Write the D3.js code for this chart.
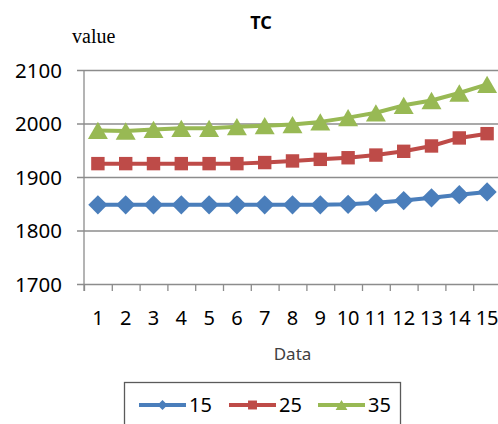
<!DOCTYPE html>
<html>
<head>
<meta charset="utf-8">
<script src="https://cdn.jsdelivr.net/npm/d3@7"></script>
<style>
  body { margin: 0; background: #fff; }
  svg { display: block; }
</style>
</head>
<body>
<svg></svg>
<script>
let categories = ['1','2','3','4','5','6','7','8','9','10','11','12','13','14','15']
let seriesNames = ['15', '25', '35']
let values15 = [1848,1848,1848,1848,1848,1848,1848,1848,1848,1849,1852,1856,1861,1867,1872]
let values25 = [1925,1925,1925,1925,1925,1925,1927,1930,1933,1936,1941,1948,1958,1973,1981]
let values35 = [1987,1986,1989,1991,1991,1994,1996,1998,2003,2011,2020,2034,2043,2057,2073]
let yTicks = [1700, 1800, 1900, 2000, 2100]

let colors = ['#4a7ebb', '#be4b48', '#98b954']

let width = 498
let height = 424
let plotLeft = 84
let plotRight = 501
let plotTop = 70
let plotBottom = 284

let font = "'Noto Sans', sans-serif"

let svg = d3.select('svg')
    .attr('width', width)
    .attr('height', height)

let series = [values15, values25, values35].map((vals, i) => {
    return { name: seriesNames[i], color: colors[i], values: vals }
})

let xScale = d3.scaleBand()
    .domain(categories)
    .range([plotLeft, plotRight])

let xTickScale = d3.scaleLinear()
    .domain([0, categories.length])
    .range([plotLeft, plotRight])

let yScale = d3.scaleLinear()
    .domain([1700, 2100])
    .range([plotBottom, plotTop])

// gridlines + y labels
let yAxis = svg.append('g')
    .attr('transform', 'translate(' + plotLeft + ',0)')
    .call(d3.axisLeft(yScale).tickValues(yTicks).tickSize(7).tickPadding(15).tickFormat(d3.format('d')))
yAxis.select('.domain').remove()
yAxis.selectAll('.tick line')
    .attr('x1', -7)
    .attr('x2', plotRight - plotLeft)
    .attr('stroke', '#8c8c8c')
    .attr('stroke-width', 1.3)
yAxis.selectAll('.tick text')
    .attr('font-family', font)
    .attr('font-size', 20.5)
    .attr('fill', '#000')
    .attr('dy', '0.36em')

// x tick marks at category boundaries
let xTicks = svg.append('g')
    .attr('transform', 'translate(0,' + plotBottom + ')')
    .call(d3.axisBottom(xTickScale).ticks(categories.length).tickSize(7).tickFormat(''))
xTicks.select('.domain').remove()
xTicks.selectAll('.tick line').attr('stroke', '#8c8c8c').attr('stroke-width', 1.3)

// x labels
let xAxis = svg.append('g')
    .attr('transform', 'translate(0,' + plotBottom + ')')
    .call(d3.axisBottom(xScale).tickSize(0))
xAxis.select('.domain').remove()
xAxis.selectAll('.tick text')
    .attr('y', 41)
    .attr('dy', 0)
    .attr('font-family', font)
    .attr('font-size', 20)
    .attr('fill', '#000')

// axis line
svg.append('line')
    .attr('x1', plotLeft).attr('x2', plotLeft)
    .attr('y1', plotTop).attr('y2', plotBottom + 7)
    .attr('stroke', '#8c8c8c')
    .attr('stroke-width', 1.3)

let line = d3.line()
    .x((d, i) => xScale(categories[i]) + xScale.bandwidth() / 2)
    .y((d) => yScale(d))

let markerPath = (i, big) => {
    if (i == 0) return d3.symbol().type(d3.symbolSquare).size(big ? 185 : 50)()
    if (i == 1) return d3.symbol().type(d3.symbolSquare).size(big ? 180 : 80)()
    return d3.symbol().type(d3.symbolTriangle).size(big ? 173 : 60)()
}
let markerShift = (i, big) => {
    if (i != 2) return 0
    let size = big ? 173 : 60
    return Math.sqrt(size / (Math.sqrt(3) * 3)) / 2
}
let markerRotate = (i) => i == 0 ? 45 : 0

series.forEach((s, i) => {
    svg.append('path')
        .datum(s.values)
        .attr('fill', 'none')
        .attr('stroke', s.color)
        .attr('stroke-width', 4)
        .attr('stroke-linejoin', 'round')
        .attr('d', line)

    svg.selectAll('.m' + i)
        .data(s.values)
        .enter()
        .append('path')
        .attr('class', 'm' + i)
        .attr('d', markerPath(i, true))
        .attr('fill', s.color)
        .attr('transform', (d, j) => 'translate(' + (xScale(categories[j]) + xScale.bandwidth() / 2) + ',' + (yScale(d) + markerShift(i, true)) + ') rotate(' + markerRotate(i) + ')')
})

// title
svg.append('text')
    .attr('x', 261)
    .attr('y', 29)
    .attr('text-anchor', 'middle')
    .attr('font-family', font)
    .attr('font-weight', 'bold')
    .attr('font-size', 18)
    .text('TC')

svg.append('text')
    .attr('x', 72)
    .attr('y', 43)
    .attr('font-family', "'Liberation Serif', serif")
    .attr('font-size', 20)
    .text('value')

svg.append('text')
    .attr('x', (plotLeft + plotRight) / 2)
    .attr('y', 360)
    .attr('text-anchor', 'middle')
    .attr('font-family', font)
    .attr('font-size', 17)
    .attr('fill', '#404040')
    .text('Data')

// legend
svg.append('rect')
    .attr('x', 124.5)
    .attr('y', 382.5)
    .attr('width', 276)
    .attr('height', 60)
    .attr('fill', '#fff')
    .attr('stroke', '#5a5a5a')
    .attr('stroke-width', 1.3)

let legendX = [139, 229, 318]
series.forEach((s, i) => {
    let g = svg.append('g').attr('transform', 'translate(' + legendX[i] + ',405)')
    g.append('line')
        .attr('x1', 0).attr('x2', 47)
        .attr('stroke', s.color)
        .attr('stroke-width', 4)
    g.append('path')
        .attr('d', markerPath(i, false))
        .attr('fill', s.color)
        .attr('transform', 'translate(23.5,' + markerShift(i, false) + ') rotate(' + markerRotate(i) + ')')
    g.append('text')
        .attr('x', 50)
        .attr('y', 7)
        .attr('font-family', font)
        .attr('font-size', 20)
        .text(s.name)
})
</script>
</body>
</html>
